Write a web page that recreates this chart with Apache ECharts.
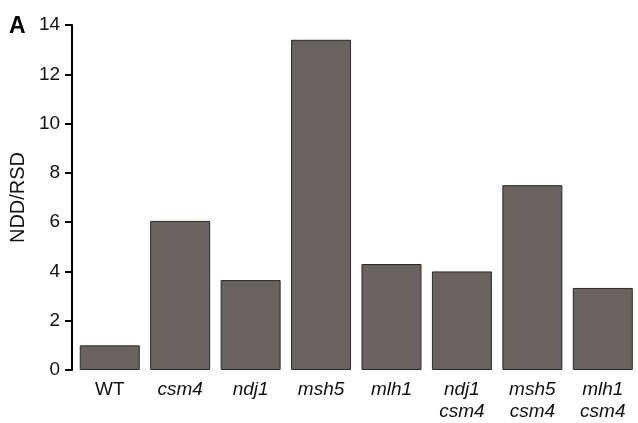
<!DOCTYPE html>
<html>
<head>
<meta charset="utf-8">
<script src="https://cdn.jsdelivr.net/npm/echarts@6/dist/echarts.min.js"></script>
<style>
  html, body { margin: 0; padding: 0; background: #fff; }
  #chart { width: 638px; height: 423px; }
</style>
</head>
<body>
<div id="chart"></div>
<script>
// genotypes (first line / second line of the label)
var strains = ['WT', 'csm4', 'ndj1', 'msh5', 'mlh1', 'ndj1\ncsm4', 'msh5\ncsm4', 'mlh1\ncsm4'];
var nddRsd = [1.0, 6.05, 3.65, 13.4, 4.3, 4.0, 7.5, 3.33];
var yTicks = [0, 2, 4, 6, 8, 10, 12, 14];

var chart = echarts.init(document.getElementById('chart'));
var font = 'Liberation Sans, Arial, sans-serif';

var option = {
    animation: false,
    grid: { left: 74.5, top: 25, width: 568, bottom: 49.3, containLabel: false },
    graphic: [{
        type: 'text', left: 9, top: 15,
        style: { text: 'A', font: 'bold 23px ' + font, fill: '#000' }
    }],
    xAxis: {
        type: 'category',
        data: strains,
        axisLine: { show: false },
        axisTick: { show: false },
        axisLabel: {
            margin: 9,
            lineHeight: 22,
            formatter: function (v) {
                if (v === 'WT') return '{n|WT}';
                return v.split('\n').map(function (s) { return '{i|' + s + '}'; }).join('\n');
            },
            rich: {
                n: { fontFamily: font, fontSize: 19, color: '#111', lineHeight: 22 },
                i: { fontFamily: font, fontSize: 19, color: '#111', fontStyle: 'italic', lineHeight: 22 }
            }
        }
    },
    yAxis: {
        type: 'value',
        min: 0, max: 14, interval: 2,
        offset: 2.5,
        name: 'NDD/RSD',
        nameLocation: 'middle',
        nameGap: 41,
        nameTextStyle: { fontFamily: font, fontSize: 20, color: '#111' },
        splitLine: { show: false },
        axisLine: { show: true, lineStyle: { color: '#000', width: 2 } },
        axisTick: { show: true, inside: false, length: 7, lineStyle: { color: '#000', width: 2 } },
        axisLabel: {
            margin: 12,
            fontFamily: font, fontSize: 19, color: '#111',
            formatter: function (v) { return yTicks.indexOf(v) >= 0 ? String(v) : ''; }
        }
    },
    series: [{
        type: 'bar',
        data: nddRsd,
        barWidth: 60,
        itemStyle: { color: '#69625f', borderColor: '#2a2a2a', borderWidth: 1 }
    }]
};
chart.setOption(option);
</script>
</body>
</html>
